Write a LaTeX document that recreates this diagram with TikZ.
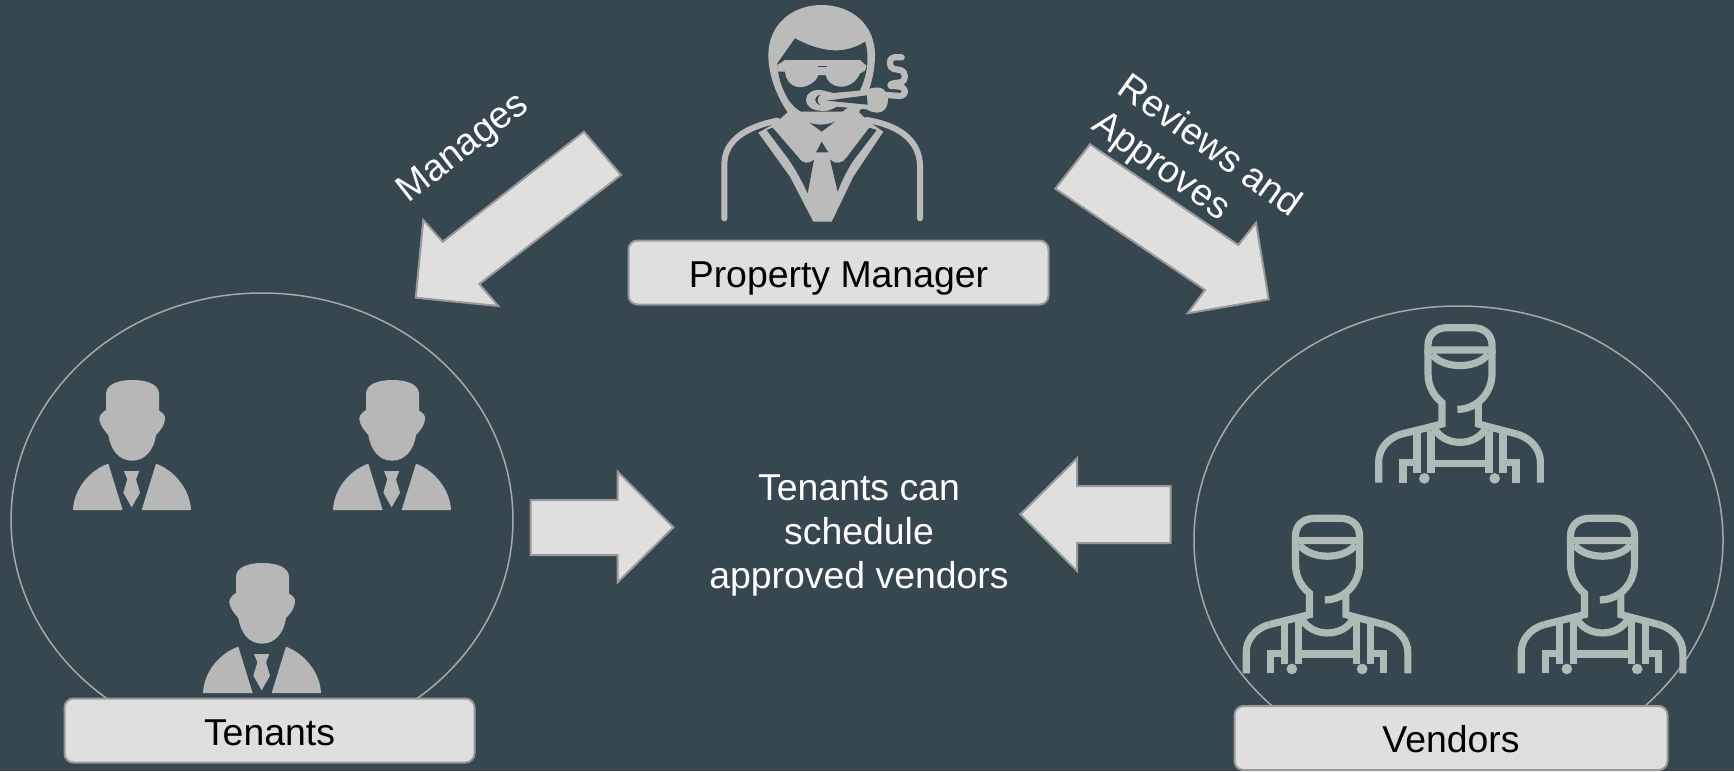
\documentclass[tikz,border=0pt]{standalone}
\usetikzlibrary{shapes.geometric}
\usepackage{fontspec}
\setmainfont{Liberation Sans}
\definecolor{bgc}{HTML}{37474F}
\definecolor{boxfill}{HTML}{DFDFDF}
\definecolor{boxline}{HTML}{999999}
\definecolor{ringc}{HTML}{A9A9A9}
\definecolor{mgrc}{HTML}{BBBBBB}
\definecolor{tenc}{HTML}{B7B7B7}
\definecolor{venc}{HTML}{AEBAB6}
\tikzset{
  namebox/.style={draw=boxline,fill=boxfill,line width=1pt,rounded corners=4.5pt,inner sep=0pt,
    font=\fontsize{18.7pt}{22pt}\selectfont,text=black,text height=14.5pt,text depth=0pt},
  blockarrow/.style={draw=boxline,fill=boxfill,line width=1pt,line join=miter},
  ring/.style={draw=ringc,line width=0.75pt,ellipse,inner sep=0pt},
  slanted/.style={text=white,font=\fontsize{18.8pt}{22pt}\selectfont,align=left,inner sep=0pt},
  centertext/.style={text=white,font=\fontsize{18.7pt}{22.1pt}\selectfont,align=center,inner sep=0pt},
  zoomscale/.style={x=0.16667pt,y=-0.16667pt},
  pics/tenanticon/.style={code={
    \begin{scope}[zoomscale]
      \fill[tenc] (168,150) -- (168,100) .. controls (170,70) and (210,60) .. (247,60) .. controls (285,60) and (325,70) .. (327,100) -- (327,152)
        .. controls (340,158) and (347,168) .. (345,178) .. controls (343,195) and (335,208) .. (318,225)
        .. controls (312,270) and (285,302) .. (246,302) .. controls (207,302) and (182,270) .. (175,225)
        .. controls (160,208) and (150,195) .. (148,178) .. controls (147,168) and (155,158) .. (168,150) -- cycle;
      \fill[tenc] (175,311) -- (218,450) -- (69,450) .. controls (72,385) and (120,330) .. (175,311) -- cycle;
      \fill[tenc] (318,311) -- (275,450) -- (423,450) .. controls (420,385) and (370,330) .. (318,311) -- cycle;
      \fill[tenc] (222,333) -- (268,333) -- (258,358) -- (270,398) -- (245,442) -- (220,398) -- (232,358) -- cycle;
    \end{scope}}},
  pics/vendoricon/.style={code={
    \begin{scope}[zoomscale,venc,line width=3.6pt,line cap=butt,line join=miter]
      \draw (204,120) -- (204,105) .. controls (204,72) and (230,53) .. (262,53) -- (338,53) .. controls (370,53) and (396,72) .. (396,105) -- (396,120) -- cycle;
      \draw (216,133) .. controls (250,178) and (350,178) .. (384,133);
      \draw (204,120) -- (204,190) .. controls (204,230) and (222,258) .. (246,278) -- (246,342) -- (125,372);
      \draw (396,120) -- (396,190) .. controls (396,250) and (350,298) .. (292,298);
      \draw (355,282) -- (355,342) -- (470,372);
      \draw (125,372) .. controls (80,385) and (56,420) .. (56,455) -- (56,518);
      \draw (470,372) .. controls (515,385) and (541,420) .. (541,455) -- (541,518);
      \draw (222,352) .. controls (250,412) and (350,412) .. (378,352);
      \draw (171,365) -- (171,490);
      \draw (129,518) -- (129,458) -- (171,458);
      \draw (213,362) -- (213,490);
      \draw (213,460) -- (387,460);
      \draw (387,362) -- (387,490);
      \draw (429,365) -- (429,490);
      \draw (429,458) -- (468,458) -- (468,518);
      \fill (193,505) circle[radius=16];
      \fill (404,505) circle[radius=16];
    \end{scope}}},
  pics/managericon/.style={code={
    \begin{scope}[zoomscale]
      % head and hair
      \fill[mgrc] (235,165) .. controls (235,75) and (305,15) .. (395,15) .. controls (485,15) and (555,75) .. (555,165)
        .. controls (555,225) and (535,290) .. (505,340) -- (295,340) .. controls (260,290) and (235,225) .. (235,165) -- cycle;
      % face
      \fill[bgc] (315,115) .. controls (380,150) and (455,170) .. (525,125) .. controls (540,170) and (532,230) .. (505,280)
        .. controls (485,325) and (440,352) .. (400,352) .. controls (345,352) and (305,325) .. (285,280)
        .. controls (270,250) and (263,220) .. (262,190) -- cycle;
      % glasses
      \fill[mgrc] (262,195) -- (285,180) -- (510,180) -- (530,198) -- (525,212) -- (510,220)
        .. controls (500,245) and (475,262) .. (450,260) .. controls (425,258) and (410,242) .. (407,225) -- (385,225)
        .. controls (380,245) and (350,264) .. (325,261) .. controls (300,258) and (285,235) .. (285,215) -- (262,215) -- cycle;
      \fill[bgc] (385,197) rectangle (410,201);
      % cigar
      \fill[mgrc] (348,300) .. controls (348,280) and (368,268) .. (392,270) -- (430,279) -- (530,270)
        .. controls (545,262) and (565,260) .. (575,265) .. controls (600,275) and (600,325) .. (575,335)
        .. controls (560,342) and (540,335) .. (530,328) -- (440,320) .. controls (420,332) and (405,335) .. (390,332)
        .. controls (365,330) and (348,318) .. (348,300) -- cycle;
      \fill[bgc] (410,302) -- (530,286) -- (533,314) -- cycle;
      \fill[bgc] (392,284) .. controls (372,288) and (368,308) .. (392,316) .. controls (380,308) and (380,292) .. (392,284) -- cycle;
      % smoke
      \draw[mgrc,line width=3.1pt,line cap=round,line join=round] (635,172) -- (612,172) .. controls (595,172) and (595,205) .. (612,207)
        -- (630,210) .. controls (650,215) and (650,245) .. (630,247) -- (610,250) .. controls (596,252) and (600,262) .. (612,258)
        -- (630,260) .. controls (650,265) and (650,285) .. (630,288) -- (590,285);
      % jacket
      \fill[mgrc] (205,398) -- (255,370) -- (295,335) -- (505,335) -- (540,368) -- (580,395)
        -- (490,530) -- (425,665) -- (370,665) -- (300,530) -- cycle;
      \fill[bgc] (358,368) .. controls (380,376) and (410,376) .. (435,365) -- (395,395) -- cycle;
      \fill[bgc] (378,457) -- (395,425) -- (415,457) -- cycle;
      \fill[bgc] (230,390) -- (248,383) -- (325,472) .. controls (335,490) and (355,495) .. (372,478) -- (353,580)
        .. controls (330,530) and (305,490) .. (290,470) -- cycle;
      \fill[bgc] (560,390) -- (538,383) -- (470,472) .. controls (460,490) and (435,495) .. (420,478) -- (443,575)
        .. controls (460,530) and (480,495) .. (495,475) -- cycle;
      % shoulders
      \draw[mgrc,line width=3pt,line cap=round] (262,362) .. controls (170,380) and (105,420) .. (103,490) -- (103,655);
      \draw[mgrc,line width=3pt,line cap=round] (530,360) .. controls (640,378) and (690,430) .. (690,500) -- (690,655);
    \end{scope}}}
}
\begin{document}
\begin{tikzpicture}[x=0.5pt,y=-0.5pt]
\useasboundingbox (0,0) rectangle (1734,771);
\fill[bgc] (0,0) rectangle (1734,771);

% group outlines
\node[ring,minimum width=251pt,minimum height=227pt] (tenantring) at (262,520) {};
\begin{scope}
  \clip (0,0) rectangle (1734,730);
  \node[ring,minimum width=264.5pt,minimum height=234pt] (vendorring) at (1458.5,540) {};
\end{scope}

% block arrows
\draw[blockarrow] (584,131.7) -- (621,175) -- (479.3,284) -- (498.3,306) -- (415.7,297.7) -- (423.3,220) -- (442.7,241.7) -- cycle;
\draw[blockarrow] (1090,144.3) -- (1238.3,245) -- (1256,222.7) -- (1268.7,299.3) -- (1187.7,313.3) -- (1205,290) -- (1055.3,188.7) -- cycle;
\draw[blockarrow] (530.5,500) -- (617.6,500) -- (617.6,471.7) -- (673.4,527.3) -- (617.6,582.3) -- (617.6,555) -- (530.5,555) -- cycle;
\draw[blockarrow] (1170.7,486) -- (1077,486) -- (1077,458.3) -- (1020.3,514.3) -- (1077,571) -- (1077,543) -- (1170.7,543) -- cycle;

% icons
\pic at (690,0) {managericon};
\pic at (50,360) {tenanticon};
\pic at (310,360) {tenanticon};
\pic at (180,543) {tenanticon};
\pic at (1360,310) {vendoricon};
\pic at (1227.5,500.6) {vendoricon};
\pic at (1502.5,500.6) {vendoricon};

% name boxes
\node[namebox,minimum width=210pt,minimum height=32pt] (manager) at (838.5,272.5) {Property Manager};
\node[namebox,minimum width=205pt,minimum height=32pt] (tenants) at (269.5,730.5) {Tenants};
\node[namebox,minimum width=216.5pt,minimum height=32pt] (vendors) at (1451,738) {Vendors};

% labels
\node[slanted,anchor=base west,rotate=38] (manages) at (408,204) {Manages};
\node[slanted,anchor=base west,rotate=-35.6] (reviews) at (1090,128.3) {Reviews and\\Approves};
\node[centertext] (middle) at (859,535.5) {Tenants can\\schedule\\approved vendors};
\end{tikzpicture}
\end{document}
